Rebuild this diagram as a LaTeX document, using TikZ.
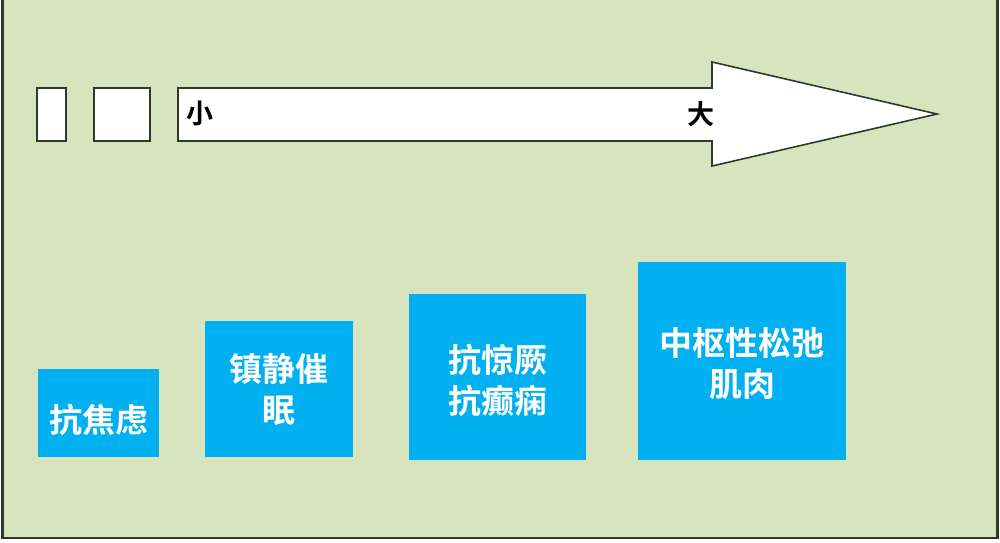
\documentclass[tikz,border=0pt]{standalone}
\usepackage{fontspec}
\newfontfamily\cjk{Noto Sans CJK SC}[BoldFont={Noto Sans CJK SC Bold}]
\definecolor{bggreen}{HTML}{D7E4BD}
\definecolor{boxblue}{HTML}{00B0F0}
\definecolor{edge}{HTML}{2F3A2A}
\tikzset{
  outline/.style={draw=edge, line width=1.6pt},
  whitebox/.style={outline, fill=white},
  bluebox/.style={fill=boxblue, draw=none, inner sep=0pt},
  boxtext/.style={text=white, font=\cjk\bfseries\fontsize{33}{41}\selectfont, align=center, inner sep=0pt},
  scalelabel/.style={font=\cjk\bfseries\fontsize{27}{30}\selectfont, text=black, inner sep=0pt}
}
\begin{document}
\begin{tikzpicture}[x=1pt, y=-1pt]
\useasboundingbox (0,0) rectangle (1000,542);
\fill[white] (0,0) rectangle (1000,542);
\path[fill=bggreen, draw=edge, line width=2.2pt] (2.5,-2) rectangle (997.5,538);
% small rectangles
\node[whitebox, minimum width=29pt, minimum height=53pt, inner sep=0pt] (r1) at (51.5,114.5) {};
\node[whitebox, minimum width=56pt, minimum height=53pt, inner sep=0pt] (r2) at (122,114.5) {};
% arrow
\draw[whitebox, line join=miter] (178,88) -- (712,88) -- (712,62) -- (937,114) -- (712,166) -- (712,141) -- (178,141) -- cycle;
\node[scalelabel] (small) at (200,113) {小};
\node[scalelabel] (big) at (701,114) {大};
% blue boxes
\node[bluebox, minimum width=121pt, minimum height=88pt] (b1) at (98.5,413) {};
\node[boxtext] (t1) at (98.5,420) {抗焦虑};
\node[bluebox, minimum width=148pt, minimum height=136pt] (b2) at (279,389) {};
\node[boxtext] (t2) at (279,389) {镇静催\\眠};
\node[bluebox, minimum width=177pt, minimum height=166pt] (b3) at (497.5,377) {};
\node[boxtext] (t3) at (497.5,380) {抗惊厥\\抗癫痫};
\node[bluebox, minimum width=208pt, minimum height=198pt] (b4) at (742,361) {};
\node[boxtext] (t4) at (742,364) {中枢性松弛\\肌肉};
\end{tikzpicture}
\end{document}
